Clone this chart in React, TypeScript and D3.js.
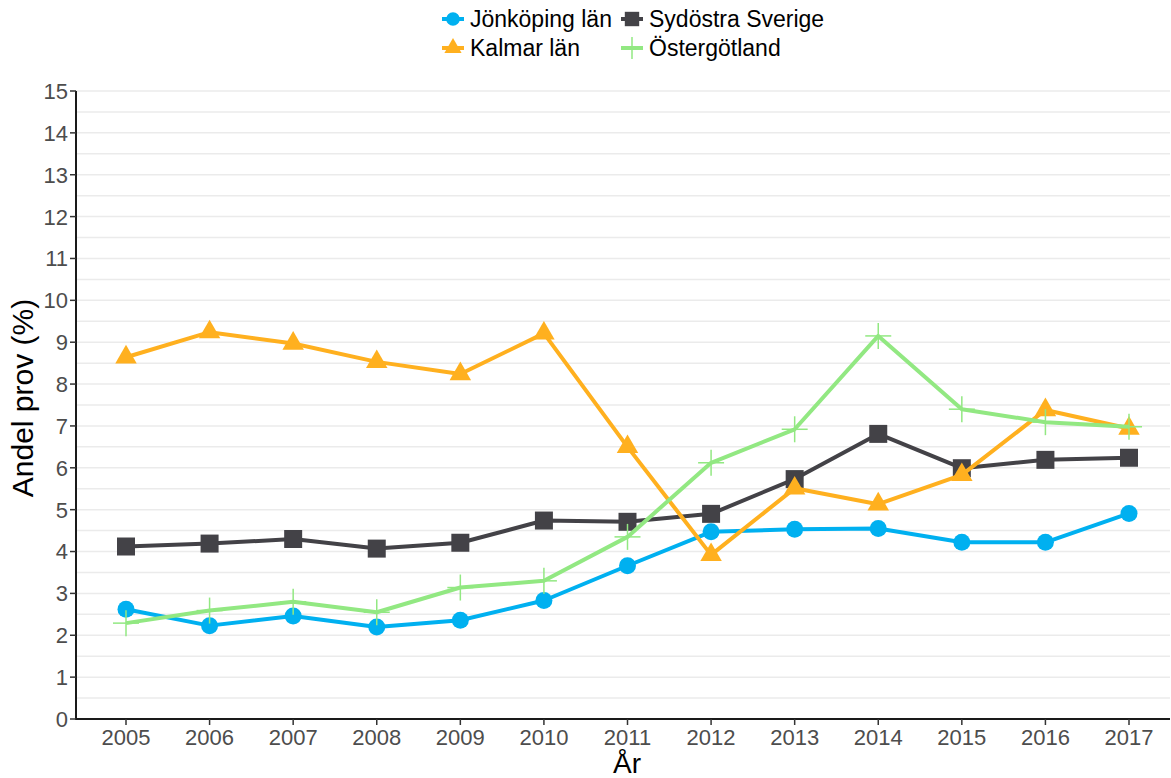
import { useEffect } from "react";
import * as d3 from "d3";

const years = [2005, 2006, 2007, 2008, 2009, 2010, 2011, 2012, 2013, 2014, 2015, 2016, 2017];
const jonkoping = [2.62, 2.23, 2.46, 2.2, 2.36, 2.83, 3.66, 4.47, 4.53, 4.55, 4.22, 4.22, 4.91];
const sydostra = [4.12, 4.19, 4.3, 4.07, 4.21, 4.74, 4.71, 4.9, 5.73, 6.81, 5.99, 6.19, 6.24];
const kalmar = [8.64, 9.24, 8.97, 8.53, 8.24, 9.21, 6.5, 3.92, 5.51, 5.13, 5.83, 7.38, 6.94];
const ostergotland = [2.29, 2.59, 2.8, 2.55, 3.14, 3.3, 4.35, 6.12, 6.92, 9.15, 7.4, 7.09, 6.98];
const yTicks = d3.range(0, 16);

type Shape = "circle" | "square" | "triangle" | "cross";
const series: { name: string; values: number[]; color: string; shape: Shape }[] = [
  { name: "Jönköping län", values: jonkoping, color: "#00b0f0", shape: "circle" },
  { name: "Sydöstra Sverige", values: sydostra, color: "#434247", shape: "square" },
  { name: "Kalmar län", values: kalmar, color: "#ffb01f", shape: "triangle" },
  { name: "Östergötland", values: ostergotland, color: "#92e882", shape: "cross" },
];

const W = 1171;
const H = 778;
const M = { top: 91, right: 1, bottom: 59, left: 76 };
const FONT = "'Liberation Sans', Arial, sans-serif";

function Marker({ shape, color, cx, cy, legend }: { shape: Shape; color: string; cx: number; cy: number; legend?: boolean }) {
  const k = legend ? 0.8 : 1;
  if (shape === "cross") {
    const h = legend ? 11 : 13;
    return (
      <g stroke={color} strokeWidth={1.5}>
        <line x1={cx - h} x2={cx + h} y1={cy} y2={cy} />
        <line x1={cx} x2={cx} y1={cy - h} y2={cy + h} />
      </g>
    );
  }
  const type = shape === "circle" ? d3.symbolCircle : shape === "square" ? d3.symbolSquare : d3.symbolTriangle;
  const size = shape === "circle" ? 227 : shape === "square" ? 324 : 200;
  const d = d3.symbol().type(type).size(size * k * k)() ?? "";
  return <path d={d} transform={`translate(${cx},${cy})`} fill={color} />;
}

export default function App() {
  useEffect(() => {
    document.body.style.margin = "0";
  }, []);

  const x = d3.scaleLinear().domain([2005, 2017]).range([126, 1129]);
  const y = d3.scaleLinear().domain([0, 15]).range([H - M.bottom, M.top]);
  const grid = d3.range(0, 15.01, 0.5);

  const line = d3
    .line<number>()
    .x((_, i) => x(years[i]))
    .y((v) => y(v));

  const legendPos = [
    { x: 453, y: 19 },
    { x: 632, y: 19 },
    { x: 453, y: 48 },
    { x: 632, y: 48 },
  ];

  return (
    <svg width={W} height={H} style={{ display: "block" }} fontFamily={FONT}>
      <rect width={W} height={H} fill="#fff" />
      {grid.map((g) => (
        <line key={g} x1={M.left} x2={W - M.right} y1={y(g)} y2={y(g)} stroke="#ebebeb" strokeWidth={1.5} />
      ))}

      {series.map((s) => (
        <g key={s.name}>
          <path d={line(s.values) ?? undefined} fill="none" stroke={s.color} strokeWidth={4} strokeLinejoin="round" />
          {s.values.map((v, i) => (
            <Marker key={i} shape={s.shape} color={s.color} cx={x(years[i])} cy={y(v)} />
          ))}
        </g>
      ))}

      {/* axes */}
      <line x1={M.left} x2={M.left} y1={M.top} y2={H - M.bottom + 1} stroke="#1a1a1a" strokeWidth={2} />
      <line x1={M.left - 1} x2={W - M.right} y1={H - M.bottom} y2={H - M.bottom} stroke="#1a1a1a" strokeWidth={2} />
      {yTicks.map((t) => (
        <g key={t}>
          <line x1={M.left - 6} x2={M.left} y1={y(t)} y2={y(t)} stroke="#333" strokeWidth={1.5} />
          <text x={M.left - 8} y={y(t)} dy="0.36em" textAnchor="end" fontSize={22} fill="#4d4d4d">
            {t}
          </text>
        </g>
      ))}
      {years.map((yr) => (
        <g key={yr}>
          <line x1={x(yr)} x2={x(yr)} y1={H - M.bottom} y2={H - M.bottom + 6} stroke="#333" strokeWidth={1.5} />
          <text x={x(yr)} y={745} textAnchor="middle" fontSize={22} fill="#4d4d4d">
            {yr}
          </text>
        </g>
      ))}
      <text x={627} y={773} textAnchor="middle" fontSize={28} fill="#000">
        År
      </text>
      <text transform={`translate(33,398) rotate(-90)`} textAnchor="middle" fontSize={30} fill="#000">
        Andel prov (%)
      </text>

      {/* legend */}
      {series.map((s, i) => {
        const p = legendPos[i];
        return (
          <g key={s.name}>
            <line x1={p.x - 11} x2={p.x + 11} y1={p.y} y2={p.y} stroke={s.color} strokeWidth={4} />
            <Marker shape={s.shape} color={s.color} cx={p.x} cy={p.y} legend />
            <text x={p.x + 17} y={p.y} dy="0.36em" fontSize={23} fill="#000">
              {s.name}
            </text>
          </g>
        );
      })}
    </svg>
  );
}
